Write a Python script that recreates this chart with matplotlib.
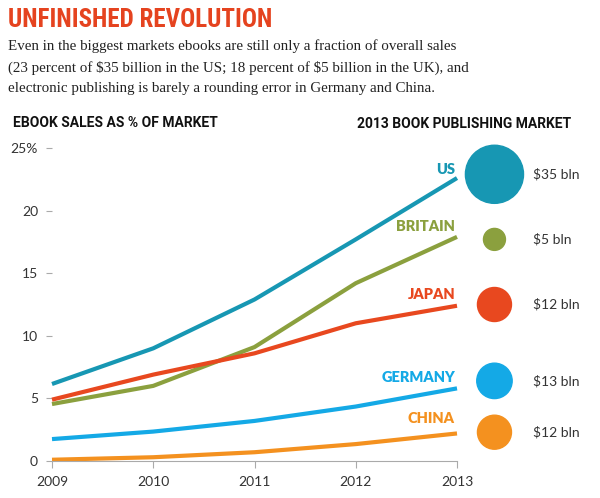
import matplotlib.pyplot as plt
from matplotlib import font_manager

years = [2009, 2010, 2011, 2012, 2013]
countries = ['US', 'BRITAIN', 'JAPAN', 'GERMANY', 'CHINA']
us = [6.15, 9.0, 12.9, 17.7, 22.6]
britain = [4.55, 6.0, 9.1, 14.2, 17.9]
japan = [4.9, 6.9, 8.6, 11.0, 12.4]
germany = [1.75, 2.35, 3.2, 4.35, 5.8]
china = [0.1, 0.3, 0.7, 1.35, 2.2]
market_bln = [35, 5, 12, 13, 12]
market_labels = [r'\$35 bln', r'\$5 bln', r'\$12 bln', r'\$13 bln', r'\$12 bln']

colors = ['#1797b3', '#8ba03e', '#e8481f', '#14a9e6', '#f4911f']
# vertical placement of the bubble column and the country names (layout only)
bubble_y = [22.9, 17.7, 12.5, 6.4, 2.3]
name_y = [23.3, 18.7, 13.3, 6.7, 3.4]

names = {f.name for f in font_manager.fontManager.ttflist}
narrow = 'Roboto'
for cand in ['Liberation Sans Narrow', 'DejaVu Sans Condensed', 'Roboto Condensed']:
    if cand in names:
        narrow = cand
        break

plt.rcParams['font.family'] = ['Lato', 'DejaVu Sans']

fig = plt.figure(figsize=(6, 4.98), dpi=100)
ax = fig.add_axes([52 / 600, 1 - 461 / 498, 405 / 600, 313 / 498])

series = [us, britain, japan, germany, china]
for vals, c in zip(series, colors):
    ax.plot(years, vals, color=c, lw=3, solid_capstyle='butt', clip_on=False)

ax.set_xlim(2009, 2013)
ax.set_ylim(0, 25)
ax.set_xticks(years)
ax.set_yticks([0, 5, 10, 15, 20, 25])
ax.set_yticklabels(['0', '5', '10', '15', '20', '25%'])
for s in ['top', 'right', 'left']:
    ax.spines[s].set_visible(False)
ax.spines['bottom'].set_color('#aaaaaa')
ax.tick_params(axis='x', length=5, color='#aaaaaa', labelsize=10, labelcolor='#333333', pad=6)
ax.tick_params(axis='y', length=4, color='#aaaaaa', labelsize=10, labelcolor='#333333', pad=6)

bx = 2013.37
ax.scatter([bx] * 5, bubble_y, s=[50 * m for m in market_bln], c=colors, clip_on=False, zorder=3)
for i in range(5):
    ax.text(bx + 0.38, bubble_y[i], market_labels[i], ha='left', va='center',
            fontsize=10, color='#333333')
    ax.text(2012.98, name_y[i], countries[i], ha='right', va='center',
            fontsize=10.5, fontweight='heavy', color=colors[i])

fig.text(8 / 600, 1 - 20 / 498, 'UNFINISHED REVOLUTION', family=narrow, fontweight='bold',
         fontsize=18, color='#e5431f', va='center')
sub = ('Even in the biggest markets ebooks are still only a fraction of overall sales\n'
       '(23 percent of \\$35 billion in the US; 18 percent of \\$5 billion in the UK), and\n'
       'electronic publishing is barely a rounding error in Germany and China.')
fig.text(8 / 600, 1 - 39 / 498, sub, family='Liberation Serif', fontsize=10.8,
         color='#222222', va='top', linespacing=1.7)
fig.text(13 / 600, 1 - 123 / 498, 'EBOOK SALES AS % OF MARKET', family='Roboto', fontsize=10,
         fontweight='bold', color='#111111', va='center')
fig.text(357 / 600, 1 - 124 / 498, '2013 BOOK PUBLISHING MARKET', family='Roboto', fontsize=10,
         fontweight='bold', color='#111111', va='center')

fig.savefig('out.png', dpi=100)
